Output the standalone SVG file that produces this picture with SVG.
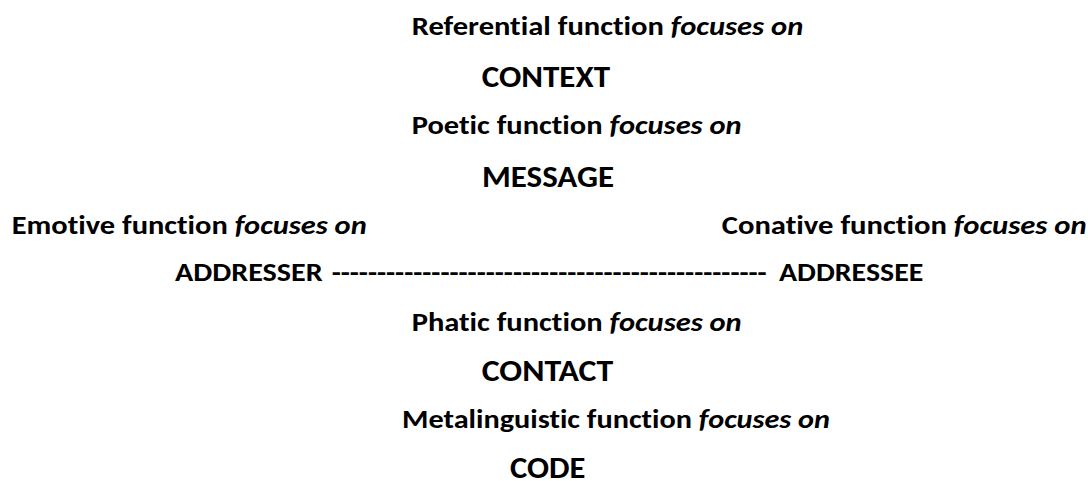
<svg xmlns="http://www.w3.org/2000/svg" width="1088" height="481" viewBox="0 0 1088 481">
  <style>
    text { font-family: Carlito, Calibri, Lato, "Open Sans", sans-serif; font-weight: 700; fill: #000; font-variant-ligatures: none; }
    .fn { font-size: 27px; }
    .focus { font-size: 30px; }
    .it { font-style: italic; }
  </style>
  <rect width="1088" height="481" fill="#fff"/>

  <!-- Referential / context -->
  <g id="referential">
    <text class="fn" x="411.7" y="35" textLength="391.6" lengthAdjust="spacingAndGlyphs">Referential function <tspan class="it">focuses on</tspan></text>
  </g>
  <g id="context">
    <text class="focus" x="481.7" y="87.3" textLength="128.3" lengthAdjust="spacingAndGlyphs">CONTEXT</text>
  </g>

  <!-- Poetic / message -->
  <g id="poetic">
    <text class="fn" x="411.7" y="134.3" textLength="330" lengthAdjust="spacingAndGlyphs">Poetic function <tspan class="it">focuses on</tspan></text>
  </g>
  <g id="message">
    <text class="focus" x="482" y="186.5" textLength="132" lengthAdjust="spacingAndGlyphs">MESSAGE</text>
  </g>

  <!-- Emotive and conative -->
  <g id="emotive">
    <text class="fn" x="11.7" y="234" textLength="355" lengthAdjust="spacingAndGlyphs">Emotive function <tspan class="it">focuses on</tspan></text>
  </g>
  <g id="conative">
    <text class="fn" x="721.7" y="234" textLength="365" lengthAdjust="spacingAndGlyphs">Conative function <tspan class="it">focuses on</tspan></text>
  </g>

  <!-- Addresser and addressee -->
  <g id="addresser">
    <text class="fn" x="175" y="281" textLength="147.7" lengthAdjust="spacingAndGlyphs">ADDRESSER</text>
  </g>
  <g id="addressee">
    <text class="fn" x="779" y="281" textLength="144.3" lengthAdjust="spacingAndGlyphs">ADDRESSEE</text>
  </g>

  <!-- Dashed link between addresser and addressee, typed as hyphens -->
  <g id="connectors">
    <text class="fn" x="331.7" y="281" textLength="435" lengthAdjust="spacingAndGlyphs">------------------------------------------------</text>
  </g>

  <!-- Phatic / contact -->
  <g id="phatic">
    <text class="fn" x="411.7" y="331" textLength="330" lengthAdjust="spacingAndGlyphs">Phatic function <tspan class="it">focuses on</tspan></text>
  </g>
  <g id="contact">
    <text class="focus" x="481.7" y="381" textLength="131.6" lengthAdjust="spacingAndGlyphs">CONTACT</text>
  </g>

  <!-- Metalinguistic / code -->
  <g id="metalinguistic">
    <text class="fn" x="402" y="428.3" textLength="428" lengthAdjust="spacingAndGlyphs">Metalinguistic function <tspan class="it">focuses on</tspan></text>
  </g>
  <g id="code">
    <text class="focus" x="510" y="477.5" textLength="75.5" lengthAdjust="spacingAndGlyphs">CODE</text>
  </g>
</svg>
